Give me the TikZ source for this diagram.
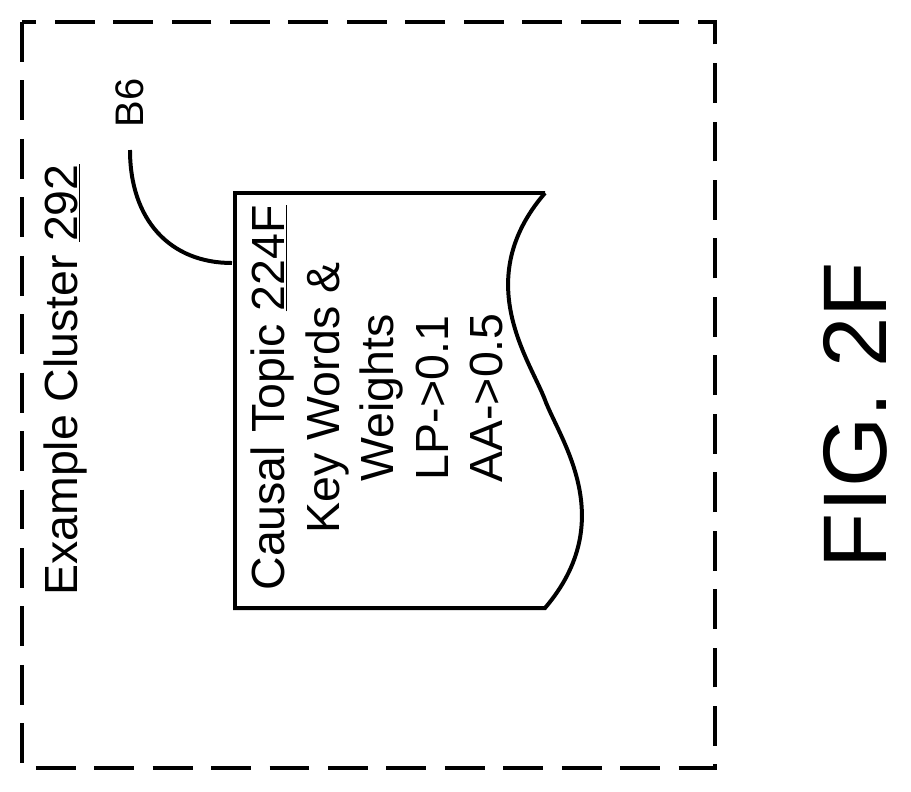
\documentclass[tikz,border=0pt]{standalone}
\usepackage{fontspec}
\setmainfont{Liberation Sans}
\newcommand{\ul}[1]{\underline{#1}}
\tikzset{
  px/.style={x=0.02646cm,y=-0.02646cm},
  lbl/.style={rotate=90,inner sep=0pt,font=\fontsize{35}{41}\selectfont}
}
\begin{document}
\begin{tikzpicture}[px,line width=3pt]
	\useasboundingbox (0,0) rectangle (911,791);
	%% cluster frame
	\draw[dash pattern=on 30pt off 14pt] (22,22) rectangle (715,768);
	\node[lbl] (cluster) at (65,380) {Example Cluster \ul{292}};
	%% document shape
	\draw (545,193) -- (235,193) -- (235,608) -- (545,608)
		.. controls (620,520) and (560,440) .. (545,400)
		.. controls (530,360) and (470,280) .. (545,193);
	\node[lbl,align=center] (topic) at (377,398)
		{Causal Topic \ul{224F}\\Key Words \&\\Weights\\LP->0.1\\AA->0.5};
	%% reference label
	\node[lbl,font=\fontsize{30}{36}\selectfont] (b6) at (130,103) {B6};
	\coordinate (tip) at (232,263);
	\draw (130,150) .. controls (130,220) and (170,263) .. (tip);
	\node[rotate=90,inner sep=0pt,font=\fontsize{68}{80}\selectfont] (fig) at (855,415) {FIG. 2F};
\end{tikzpicture}
\end{document}
